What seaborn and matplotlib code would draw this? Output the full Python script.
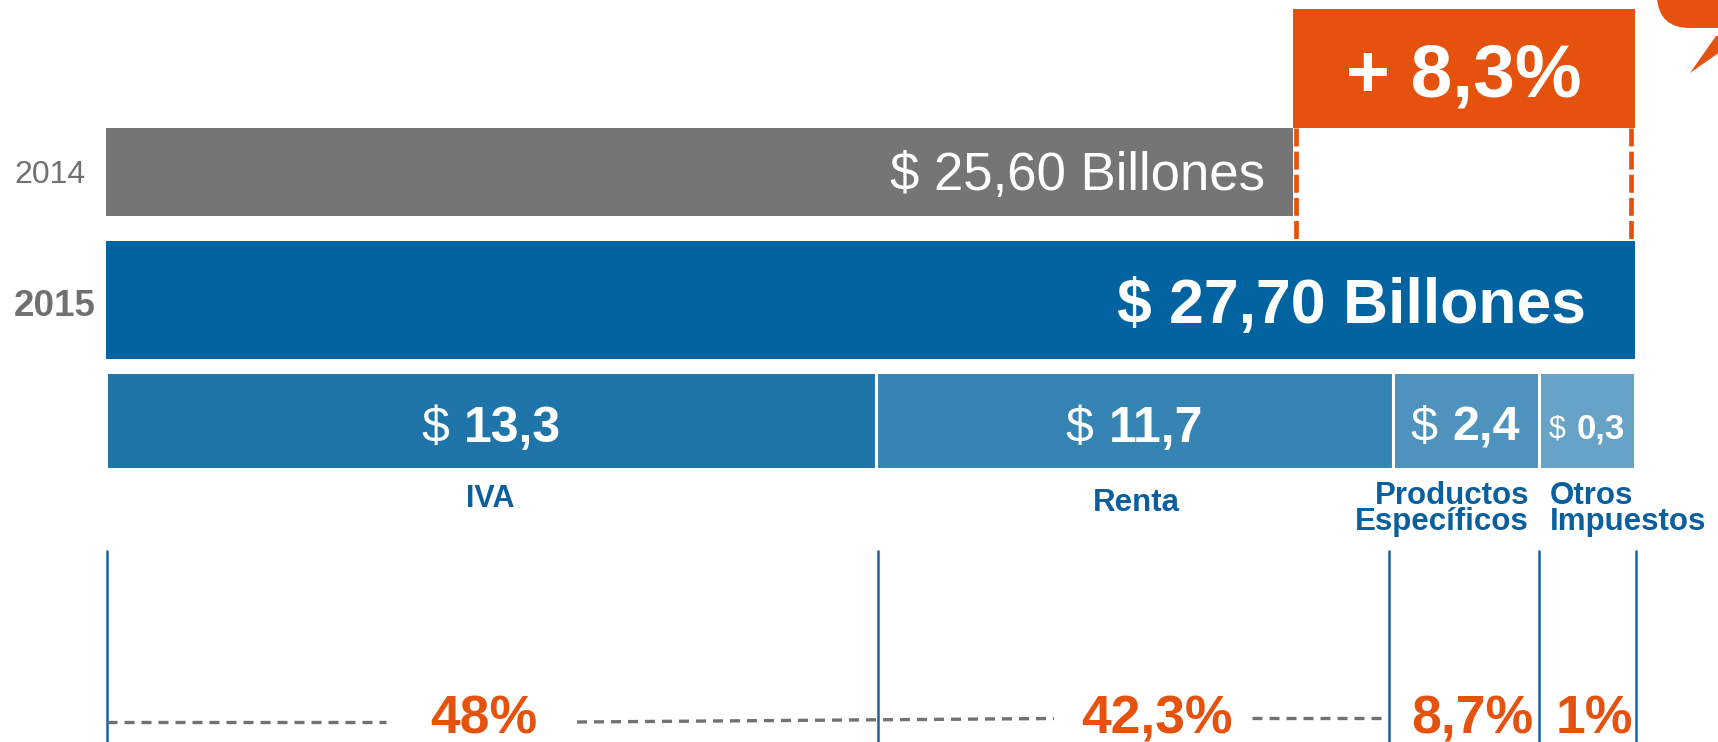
import matplotlib
matplotlib.use('Agg')
import matplotlib.pyplot as plt
import seaborn as sns
import pandas as pd
from matplotlib.patches import PathPatch, Polygon
from matplotlib.path import Path

# ---------------- data ----------------
years = ['2014', '2015']
totals = [25.60, 27.70]
total_labels = ['$ 25,60 Billones', '$ 27,70 Billones']
growth_label = '+ 8,3%'
categories = ['IVA', 'Renta', 'Productos\nEspecíficos', 'Otros\nImpuestos']
cat_values = [13.3, 11.7, 2.4, 0.3]
cat_value_labels = ['13,3', '11,7', '2,4', '0,3']
cat_shares = ['48%', '42,3%', '8,7%', '1%']

# ---------------- style ----------------
GRAY = '#757575'
BLUE = '#0164a0'
SEG_COLORS = ['#1f75aa', '#3584b3', '#4d93bd', '#66a3c7']
ORANGE = '#e5520e'
LABEL_BLUE = '#0a5f9c'
YEAR_GRAY = '#707070'

W, H = 1718, 742
sns.set_theme(style='white')
plt.rcParams['font.family'] = ['Liberation Sans', 'DejaVu Sans']

fig = plt.figure(figsize=(W / 100, H / 100), dpi=100)

# canvas layout (truncated value axis, as in the original)
LEFT_PX, RIGHT_PX = 106, 1635
AX_X0 = 18.31
k = (RIGHT_PX - LEFT_PX) / (totals[1] - AX_X0)
ax = fig.add_axes([LEFT_PX / W, 0, 1 - LEFT_PX / W, 1])
Y0, YS = 172, 128


def X(px):
    return AX_X0 + (px - LEFT_PX) / k


def P(v):
    return LEFT_PX + (v - AX_X0) * k


def Y(py):
    return (py - Y0) / YS


# ---------------- year bars ----------------
df = pd.DataFrame({'year': years, 'total': totals})
sns.barplot(data=df, x='total', y='year', hue='year', palette=[GRAY, BLUE],
            width=0.9, legend=False, saturation=1, ax=ax, orient='h')
bars = [p for p in ax.patches]
bar_rows = [(128, 216), (241, 359)]
for p, (t, b) in zip(bars, bar_rows):
    p.set_y(Y(t))
    p.set_height((b - t) / YS)
    p.set_linewidth(0)

ax.set_xlim(X(LEFT_PX), X(W))
ax.set_ylim(Y(H), Y(0))
ax.axis('off')

# growth box (from 2014 total to 2015 total)
ax.barh(Y((9 + 128) / 2), totals[1] - totals[0], left=totals[0],
        height=(128 - 9) / YS, color=ORANGE, linewidth=0)
ax.text((totals[0] + totals[1]) / 2, Y(97), growth_label, ha='center',
        va='baseline', fontsize=54, fontweight='bold', color='white')
ax.vlines([X(P(totals[0]) + 3), X(P(totals[1]) - 4)], Y(128), Y(241),
          colors=ORANGE, linewidth=3.4, linestyles=[(0, (3.8, 1.1))])

# total labels
ax.text(X(1265), Y(190), total_labels[0], ha='right', va='baseline',
        fontsize=38, color='white')
ax.text(X(1586), Y(323), total_labels[1], ha='right', va='baseline',
        fontsize=45, fontweight='bold', color='white')

# year tick labels
ax.text(X(14), Y(183), years[0], ha='left', va='baseline', fontsize=23,
        color=YEAR_GRAY)
ax.text(X(14), Y(316), years[1], ha='left', va='baseline', fontsize=26.5,
        fontweight='bold', color=YEAR_GRAY)

# ---------------- breakdown segments ----------------
seg_share_layout = [0.5039, 0.3375, 0.0955, 0.0631]  # display widths
span = RIGHT_PX - LEFT_PX
bounds_px = [LEFT_PX]
for s in seg_share_layout:
    bounds_px.append(bounds_px[-1] + s * span)
lefts = [X(b) for b in bounds_px[:-1]]
widths = [X(bounds_px[i + 1]) - X(bounds_px[i]) for i in range(4)]
ax.barh([Y(420.5)] * 4, widths, left=lefts, height=97 / YS,
        color=SEG_COLORS, edgecolor='white', linewidth=2.2)

renderer = fig.canvas.get_renderer()
seg_sizes = [36, 36, 35, 25]
dollar_sizes = [36, 36, 35, 22]
seg_baselines = [442, 442, 441, 438]
for i in range(4):
    cx = (bounds_px[i] + bounds_px[i + 1]) / 2
    size = seg_sizes[i]
    t1 = ax.text(0, 0, '$', fontsize=dollar_sizes[i], color='white',
                 ha='left', va='baseline')
    t2 = ax.text(0, 0, cat_value_labels[i], fontsize=size,
                 fontweight='bold', color='white', ha='left', va='baseline')
    w1 = t1.get_window_extent(renderer).width
    w2 = t2.get_window_extent(renderer).width
    gap = 0.3 * size * 100 / 72
    start = cx - (w1 + gap + w2) / 2
    t1.set_position((X(start), Y(seg_baselines[i])))
    t2.set_position((X(start + w1 + gap), Y(seg_baselines[i])))

# category labels
ax.text(X(490), Y(507), categories[0], ha='center', va='baseline',
        fontsize=22, fontweight='bold', color=LABEL_BLUE)
ax.text(X(1136), Y(511), categories[1], ha='center', va='baseline',
        fontsize=22.5, fontweight='bold', color=LABEL_BLUE)
ax.text(X(1529), Y(507), categories[2], ha='right', va='center_baseline',
        multialignment='right', linespacing=0.86,
        fontsize=22.5, fontweight='bold', color=LABEL_BLUE)
ax.text(X(1550), Y(507), categories[3], ha='left', va='center_baseline',
        multialignment='left', linespacing=0.86,
        fontsize=22.5, fontweight='bold', color=LABEL_BLUE)

# ---------------- share row ----------------
vline_px = [107, 878, 1389, 1539, 1636]
ax.vlines([X(v) for v in vline_px], Y(550), Y(H), colors='#1b62a0',
          linewidth=1.8)
gray_dash = (0, (3.0, 2.1))
DASH_GRAY = '#727272'
ax.plot([X(107), X(386)], [Y(722), Y(722)], color=DASH_GRAY, lw=2.4,
        linestyle=gray_dash, clip_on=False)
ax.plot([X(577), X(1054)], [Y(722), Y(718.5)], color=DASH_GRAY, lw=2.4,
        linestyle=gray_dash, clip_on=False)
ax.plot([X(1252), X(1385)], [Y(718), Y(718)], color=DASH_GRAY, lw=2.4,
        linestyle=gray_dash, clip_on=False)
share_cx = [484, 1157, 1472, 1594]
for cx, s in zip(share_cx, cat_shares):
    ax.text(X(cx), Y(734), s, ha='center', va='baseline', fontsize=38.5,
            fontweight='bold', color=ORANGE)

# ---------------- speech bubble fragment (top right) ----------------
verts = [(X(1657), Y(-2)), (X(1659), Y(28)), (X(1690), Y(28)),
         (X(1720), Y(28)), (X(1720), Y(-2)), (X(1657), Y(-2))]
codes = [Path.MOVETO, Path.CURVE3, Path.CURVE3, Path.LINETO, Path.LINETO,
         Path.CLOSEPOLY]
ax.add_patch(PathPatch(Path(verts, codes), facecolor=ORANGE, lw=0,
                       clip_on=False))
ax.add_patch(Polygon([(X(1690), Y(73)), (X(1716), Y(36)), (X(1720), Y(36)),
                      (X(1720), Y(52))], closed=True, facecolor=ORANGE,
                     lw=0, clip_on=False))

fig.savefig('out.png', dpi=100)
